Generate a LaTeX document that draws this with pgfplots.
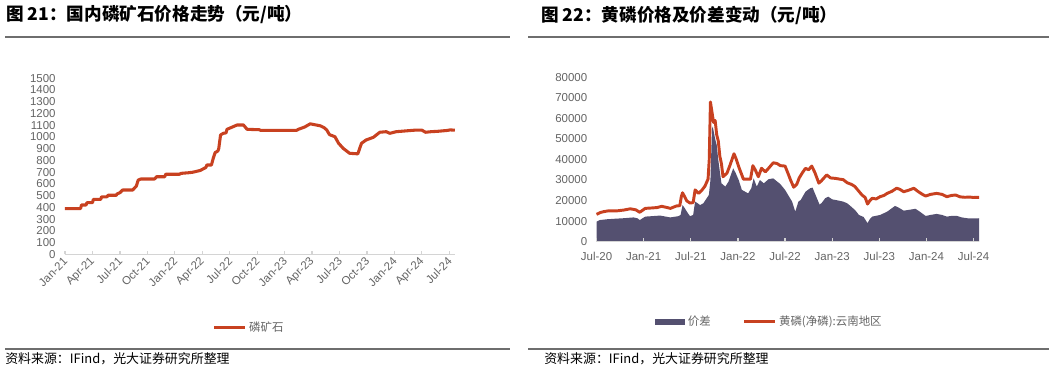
\documentclass[border=0pt]{standalone}
\usepackage{fontspec}
\setmainfont{Liberation Sans}
\newfontfamily\cjk{Noto Sans CJK SC}
\usepackage{pgfplots}
\pgfplotsset{compat=1.18}
\definecolor{redl}{RGB}{200,65,32}
\definecolor{areac}{RGB}{84,80,112}
\definecolor{tickg}{RGB}{100,100,100}
\definecolor{axg}{RGB}{212,212,212}
\definecolor{rule}{RGB}{110,110,110}

\pgfplotstableread{
m v
0 390
1.7 390
1.8 420
2.3 420
2.4 440
3.0 440
3.1 468
3.9 468
4.0 490
4.6 490
4.7 503
5.6 503
5.7 515
6.0 525
6.3 548
7.4 548
7.6 565
7.8 582
8.0 633
8.3 642
9.8 642
10.0 661
10.9 661
11.0 682
12.5 682
12.7 690
13.5 695
14.0 700
14.8 715
15.0 724
15.4 740
15.5 761
16.0 761
16.2 818
16.4 866
16.7 880
16.8 900
17.0 1017
17.3 1031
17.6 1035
17.7 1065
18.3 1085
18.8 1102
19.5 1102
19.9 1065
21.2 1062
21.4 1056
25.3 1056
25.5 1065
26.2 1085
26.8 1112
27.9 1095
28.3 1080
28.6 1060
28.9 1020
29.5 1002
29.9 946
30.4 903
31.1 861
32.0 856
32.4 946
32.9 974
33.7 997
34.4 1040
35.1 1045
35.5 1031
36.2 1045
38.4 1059
39.0 1058
39.4 1040
40.0 1045
40.7 1048
41.7 1055
42.1 1060
42.6 1058
}\phos

\pgfplotstableread{
m v
0 13300
0.5 14200
0.9 14600
1.5 15000
2.6 15000
3.5 15400
4.3 16000
5.0 15500
5.5 14300
6.2 16200
7.0 16400
7.7 16600
8.3 17200
9.0 16600
9.4 16200
10.2 17400
10.6 17500
10.8 22000
10.95 23800
11.2 22000
11.5 19800
11.9 18800
12.3 19000
12.55 25200
13.0 23500
13.4 25000
13.8 27000
14.2 30500
14.35 40000
14.5 68000
14.7 63000
14.9 58000
15.1 59000
15.3 52000
15.5 49000
15.7 41500
15.9 38000
16.1 31600
16.6 33300
17.0 37300
17.5 42800
17.8 40000
18.1 36500
18.7 30400
19.6 30400
19.9 37000
20.2 35000
20.6 31600
21.0 35700
21.5 34000
21.9 35700
22.5 38400
23.0 38000
23.4 37000
24.0 36800
24.4 33000
24.7 30000
25.1 26500
25.5 28000
25.8 31000
26.2 33500
26.6 35700
27.0 35000
27.4 36800
27.8 33600
28.3 28500
28.6 29500
29.3 32500
29.8 31000
30.4 30800
31.0 30400
31.4 30200
31.9 28700
32.5 27800
32.9 26800
33.4 24500
33.8 22700
34.2 21500
34.5 18300
34.8 20000
35.1 21100
35.6 20800
36.1 21900
36.6 22500
37.0 23500
37.6 24500
38.2 26000
38.6 25500
39.1 24300
39.7 25000
40.4 26000
40.9 24500
41.5 23000
41.9 22200
42.5 23000
43.3 23500
44.0 23000
44.6 21900
45.2 22500
45.7 22700
46.3 21800
46.9 21600
47.5 21700
48.0 21500
48.7 21600
}\yp

\pgfplotstableread{
m v
0 9700
0.4 10500
1.3 10900
2.5 11200
3.4 11400
4.7 11800
5.2 11400
5.5 10500
6.2 12200
7.0 12400
8.1 12700
8.8 12200
9.4 11800
10.4 12400
10.7 13000
10.95 17800
11.2 16500
11.5 14600
11.9 12400
12.3 13000
12.55 19500
13.2 17800
13.6 18700
14.0 21000
14.3 22700
14.5 30000
14.7 55000
14.8 56000
15.1 50000
15.3 47000
15.5 39800
15.9 28400
16.4 26800
16.8 29200
17.4 35700
17.7 33500
18.1 30000
18.5 25200
19.3 23500
19.7 26000
20.0 30800
20.4 26800
20.8 30000
21.3 28400
21.9 30400
22.5 30800
23.4 28000
24.0 25200
24.5 22000
24.9 19500
25.3 14600
25.7 19500
26.0 20300
26.6 24300
27.2 26000
27.5 26300
27.8 23500
28.4 18000
28.7 19000
29.1 21100
29.5 21900
30.0 20600
30.8 20000
31.4 19500
31.9 18700
32.5 16800
33.0 15000
33.4 13000
34.0 12000
34.5 9000
34.8 11000
35.1 12200
36.1 13000
37.0 14600
37.5 16000
38.0 17400
38.5 16500
39.1 15100
39.8 15500
40.6 16000
41.2 14500
41.9 12500
42.5 13000
43.3 13500
44.0 13000
44.6 12200
45.3 12600
45.9 12500
46.5 11800
47.2 11400
47.9 11300
48.7 11400
}\spread

\pgfplotsset{mystyle/.style={
  scale only axis, enlargelimits=false, clip=false,
  axis x line*=bottom, axis y line*=left,
  x axis line style={draw=axg, line width=0.9pt, -},
  y axis line style={draw=none},
  ytick style={draw=none},
  xtick style={draw=axg, line width=0.9pt},
  tick align=inside, major tick length=2.5pt,
  ticklabel style={font=\fontsize{8.6}{10}\selectfont, text=tickg},
  yticklabel style={xshift=-3.5pt},
  /pgf/number format/assume math mode=true,
  /pgf/number format/1000 sep={},
  scaled y ticks=false,
  legend style={draw=none, fill=none, legend columns=-1,
    font=\cjk\fontsize{8.6}{10}\selectfont, text=tickg, anchor=center,
    /tikz/every even column/.append style={column sep=22pt}},
}}

\begin{document}
\begin{tikzpicture}[x=0.75pt,y=0.75pt]
\path[use as bounding box] (0,0) rectangle (1054,369);

% titles and rules
\node[anchor=west, inner sep=0, font=\cjk\bfseries\fontsize{13.2}{14}\selectfont] at (6,354) {图 21：国内磷矿石价格走势（元/吨）};
\node[anchor=west, inner sep=0, font=\cjk\bfseries\fontsize{13.2}{14}\selectfont] at (541,354) {图 22：黄磷价格及价差变动（元/吨）};
\draw[rule, line width=1pt] (5,332) -- (510,332);
\draw[rule, line width=1pt] (528,332) -- (1049,332);
\draw[rule, line width=1.5pt] (5,20.5) -- (510,20.5);
\draw[rule, line width=1.5pt] (528,20.5) -- (1049,20.5);
\node[anchor=west, inner sep=0, font=\cjk\fontsize{9.7}{11}\selectfont] at (5,10) {资料来源：IFind，光大证券研究所整理};
\node[anchor=west, inner sep=0, font=\cjk\fontsize{9.7}{11}\selectfont] at (544,10) {资料来源：IFind，光大证券研究所整理};

\begin{axis}[mystyle,
  at={(48.75pt,86.03pt)}, anchor=south west,
  width=292.5pt, height=132pt,
  xmin=0, xmax=42.62, ymin=0, ymax=1500,
  ytick={0,100,...,1500},
  xtick={0,3,...,42},
  xticklabels={Jan-21,Apr-21,Jul-21,Oct-21,Jan-22,Apr-22,Jul-22,Oct-22,Jan-23,Apr-23,Jul-23,Oct-23,Jan-24,Apr-24,Jul-24},
  xticklabel style={rotate=45, anchor=east, xshift=1pt, yshift=-3pt},
  legend style={at={(0.473,-0.415)}},
  legend image code/.code={\draw[#1] (0pt,0pt) -- (23pt,0pt);},
]
\addplot[redl, line width=2.3pt, line join=round] table[x=m,y=v] {\phos};
\addlegendentry{磷矿石}
\end{axis}

\begin{axis}[mystyle,
  at={(447.4pt,95.5pt)}, anchor=south west,
  width=286.9pt, height=123.3pt,
  xmin=0, xmax=48.7, ymin=0, ymax=80000,
  ytick={0,10000,...,80000},
  xtick={0,6,...,48},
  xticklabels={Jul-20,Jan-21,Jul-21,Jan-22,Jul-22,Jan-23,Jul-23,Jan-24,Jul-24},
  xticklabel style={yshift=-4.5pt},
  axis on top,
  legend style={at={(0.452,-0.488)}},
]
\addplot[draw=none, fill=areac,
  legend image code/.code={\fill[areac] (0pt,-2.4pt) rectangle (23pt,2.4pt);}]
  table[x=m,y=v] {\spread} \closedcycle;
\addlegendentry{价差}
\addplot[redl, line width=2.2pt, line join=round,
  legend image code/.code={\draw[redl, line width=2.2pt] (0pt,0pt) -- (23pt,0pt);}]
  table[x=m,y=v] {\yp};
\addlegendentry{黄磷(净磷):云南地区}
\end{axis}
\end{tikzpicture}
\end{document}
